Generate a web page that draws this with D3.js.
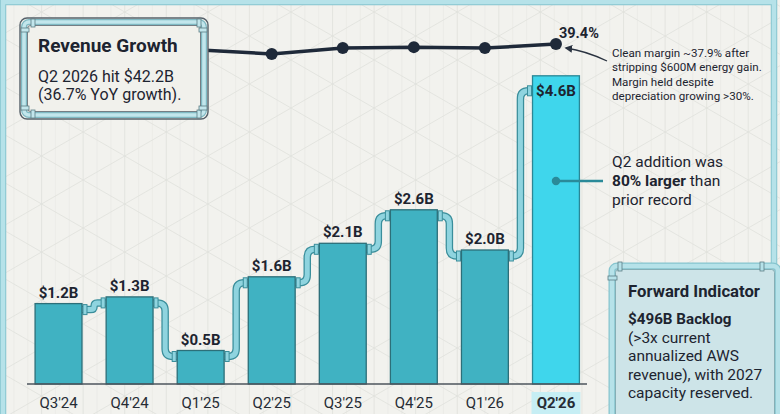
<!DOCTYPE html>
<html><head><meta charset="utf-8">
<script src="https://cdn.jsdelivr.net/npm/d3@7"></script>
<style>
html,body{margin:0;padding:0;background:#f2f2ee;}
svg{display:block;font-family:Roboto,"Noto Sans",sans-serif;}
</style></head>
<body>
<svg id="c" width="780" height="414"></svg>
<script>
// ---- data ----
const quarters = ["Q3'24","Q4'24","Q1'25","Q2'25","Q3'25","Q4'25","Q1'26","Q2'26"];
const addition = [1.2, 1.3, 0.5, 1.6, 2.1, 2.6, 2.0, 4.6];           // $B
const additionLabels = ["$1.2B","$1.3B","$0.5B","$1.6B","$2.1B","$2.6B","$2.0B","$4.6B"];
const margin = [38.1, 36.9, 35.6, 33.0, 36.8, 37.4, 36.8, 39.4];      // %
const marginLastLabel = "39.4%";

const W = 780, H = 414;
const svg = d3.select("#c");
const TXT = "#1d2430";

// ---- background grid ----
const bg = svg.append("g");
bg.append("rect").attr("width", W).attr("height", H).attr("fill", "#f2f2ee");
const s = 48, dx = s * Math.cos(Math.PI / 6), t30 = Math.tan(Math.PI / 6);
for (let x = 0; x <= W; x += dx / 3) {
  bg.append("line").attr("x1", x).attr("x2", x).attr("y1", 0).attr("y2", H)
    .attr("stroke", Math.abs((x / dx) - Math.round(x / dx)) < 0.01 ? "#e0e1dc" : "#eaeae6").attr("stroke-width", 0.8);
}
for (let c = -W; c <= H + W; c += s) {
  bg.append("line").attr("x1", 0).attr("y1", c).attr("x2", W).attr("y2", c + W * t30)
    .attr("stroke", "#e0e1dc").attr("stroke-width", 0.8);
  bg.append("line").attr("x1", 0).attr("y1", c).attr("x2", W).attr("y2", c - W * t30)
    .attr("stroke", "#e0e1dc").attr("stroke-width", 0.8);
}

// ---- scales ----
const x = d3.scaleBand().domain(quarters).range([23, 591.5]).paddingInner(0.34).paddingOuter(0.17);
const y = d3.scaleLinear().domain([0, 5]).range([384, 49]);
const ym = d3.scaleLinear().domain([30, 40]).range([58.7, 43.06]);

const data = quarters.map((q, i) => ({ q, v: addition[i], lab: additionLabels[i], m: margin[i], last: i === quarters.length - 1 }));

// ---- pipes between bars ----
function pipe(g, d) {
  g.append("path").attr("d", d).attr("fill", "none").attr("stroke", "#3a8e9b").attr("stroke-width", 7.5).attr("stroke-linecap", "butt");
  g.append("path").attr("d", d).attr("fill", "none").attr("stroke", "#8fd4df").attr("stroke-width", 5).attr("stroke-linecap", "butt");
}
const pipes = svg.append("g");
for (let i = 0; i < data.length - 1; i++) {
  const a = data[i], b = data[i + 1];
  const x1 = x(a.q) + x.bandwidth();
  const x2 = x(b.q);
  const xm = (x1 + x2) / 2;
  const y1 = y(a.v) + 6;
  const y2 = y(b.v) + (b.last ? 15 : 6);
  const dir = y2 > y1 ? 1 : -1;
  const r = Math.min(8, Math.abs(y2 - y1) / 2);
  const d = `M${x1},${y1} H${xm - r} Q${xm},${y1} ${xm},${y1 + dir * r} V${y2 - dir * r} Q${xm},${y2} ${xm + r},${y2} H${x2}`;
  pipe(pipes, d);
  [[x1 + 1, y1], [x2 - 5, y2]].forEach(p => {
    pipes.append("rect").attr("x", p[0]).attr("y", p[1] - 5).attr("width", 4).attr("height", 10)
      .attr("fill", "#8fd4df").attr("stroke", "#3a8e9b").attr("stroke-width", 1);
  });
}

// ---- bars ----
const bars = svg.append("g");
bars.selectAll("rect").data(data).join("rect")
  .attr("x", d => x(d.q)).attr("y", d => y(d.v))
  .attr("width", x.bandwidth()).attr("height", d => y(0) - y(d.v))
  .attr("fill", d => d.last ? "#3fd6ec" : "#40b2c2")
  .attr("stroke", d => d.last ? "#2a8796" : "#2c6f79").attr("stroke-width", 1.3);

bars.selectAll("text").data(data).join("text")
  .attr("x", d => x(d.q) + x.bandwidth() / 2)
  .attr("y", d => d.last ? y(d.v) + 20 : y(d.v) - 6)
  .attr("text-anchor", "middle").attr("font-weight", 700).attr("font-size", 15)
  .attr("fill", TXT).text(d => d.lab);

// ---- x axis ----
const ax = svg.append("g");
ax.append("line").attr("x1", 27).attr("x2", 587).attr("y1", y(0)).attr("y2", y(0))
  .attr("stroke", "#4d545c").attr("stroke-width", 1.6);
const lastQ = quarters[quarters.length - 1];
ax.append("rect").attr("x", x(lastQ) - 1).attr("y", 392).attr("width", x.bandwidth() + 2).attr("height", 24).attr("fill", "#c6eef4");
ax.selectAll("text").data(data).join("text")
  .attr("x", d => x(d.q) + x.bandwidth() / 2).attr("y", 408)
  .attr("text-anchor", "middle").attr("font-size", 15)
  .attr("font-weight", d => d.last ? 700 : 400)
  .attr("fill", "#262c35").text(d => d.q);

// ---- margin line ----
const mg = svg.append("g");
const line = d3.line().x(d => x(d.q) + x.bandwidth() / 2).y(d => ym(d.m));
mg.append("path").datum(data).attr("d", line).attr("fill", "none").attr("stroke", "#1e2939").attr("stroke-width", 3.5);
mg.selectAll("circle").data(data).join("circle")
  .attr("cx", d => x(d.q) + x.bandwidth() / 2).attr("cy", d => ym(d.m)).attr("r", 6).attr("fill", "#1e2939");
const lastD = data[data.length - 1];
mg.append("text").attr("x", x(lastD.q) + x.bandwidth() / 2 + 3).attr("y", ym(lastD.m) - 6)
  .attr("font-size", 14.5).attr("font-weight", 700).attr("fill", TXT).text(marginLastLabel);

// arrow annotation
svg.append("defs").append("marker").attr("id", "ah").attr("viewBox", "0 0 10 10").attr("refX", 8).attr("refY", 5)
  .attr("markerWidth", 6).attr("markerHeight", 6).attr("orient", "auto")
  .append("path").attr("d", "M0,0 L10,5 L0,10 z").attr("fill", "#2a3340");
const lx = x(lastD.q) + x.bandwidth() / 2, lyv = ym(lastD.m);
svg.append("path").attr("d", `M607,61 Q586,51 ${lx + 10},${lyv + 4}`).attr("fill", "none")
  .attr("stroke", "#2a3340").attr("stroke-width", 1.3).attr("marker-end", "url(#ah)");
const noteTop = ["Clean margin ~37.9% after", "stripping $600M energy gain.", "Margin held despite", "depreciation growing >30%."];
svg.append("g").selectAll("text").data(noteTop).join("text")
  .attr("x", 612).attr("y", (d, i) => 57 + i * 14.4).attr("font-size", 11.6).attr("fill", TXT).text(d => d);

// middle annotation
const dotY = 181;
svg.append("line").attr("x1", lx).attr("x2", 603).attr("y1", dotY).attr("y2", dotY).attr("stroke", "#2a8a99").attr("stroke-width", 2.5);
svg.append("circle").attr("cx", lx).attr("cy", dotY).attr("r", 4.2).attr("fill", "#2a8a99");
const mid = svg.append("g").attr("font-size", 15.5).attr("fill", TXT);
mid.append("text").attr("x", 612).attr("y", 167).text("Q2 addition was");
const t2 = mid.append("text").attr("x", 612).attr("y", 186);
t2.append("tspan").attr("font-weight", 700).text("80% larger");
t2.append("tspan").text(" than");
mid.append("text").attr("x", 612).attr("y", 204.5).text("prior record");

// ---- frame pipes ----
function framePipe(d, w) {
  svg.append("path").attr("d", d).attr("fill", "none").attr("stroke", "#86c4ce").attr("stroke-width", w + 2);
  svg.append("path").attr("d", d).attr("fill", "none").attr("stroke", "#b6e2e9").attr("stroke-width", w);
}
framePipe("M3,414 V2 H774 V414", 4.5);

// ---- Revenue Growth box ----
const b1 = svg.append("g");
b1.append("rect").attr("x", 20).attr("y", 18).attr("width", 188).attr("height", 101).attr("rx", 7)
  .attr("fill", "#f1f1ec").attr("stroke", "#56616a").attr("stroke-width", 1.4);
b1.append("rect").attr("x", 24).attr("y", 22).attr("width", 180).attr("height", 93).attr("rx", 5)
  .attr("fill", "none").attr("stroke", "#7fb9c3").attr("stroke-width", 6);
b1.append("rect").attr("x", 24).attr("y", 22).attr("width", 180).attr("height", 93).attr("rx", 5)
  .attr("fill", "none").attr("stroke", "#c2e6ec").attr("stroke-width", 3.6);
b1.append("rect").attr("x", 27.5).attr("y", 25.5).attr("width", 173).attr("height", 86).attr("rx", 3)
  .attr("fill", "#f1f1ec").attr("stroke", "#56616a").attr("stroke-width", 0.8);
[[31, 19, 4, 8], [197, 19, 4, 8], [31, 110, 4, 8], [197, 110, 4, 8], [21, 28, 8, 4], [21, 106, 8, 4], [199, 28, 8, 4], [199, 106, 8, 4]].forEach(r => {
  b1.append("rect").attr("x", r[0]).attr("y", r[1]).attr("width", r[2]).attr("height", r[3])
    .attr("fill", "#c2e6ec").attr("stroke", "#5d7d84").attr("stroke-width", 0.8);
});
b1.append("text").attr("x", 38).attr("y", 52).attr("font-size", 19).attr("font-weight", 700).attr("fill", TXT).text("Revenue Growth");
b1.append("text").attr("x", 38).attr("y", 82).attr("font-size", 16).attr("fill", TXT).text("Q2 2026 hit $42.2B");
b1.append("text").attr("x", 38).attr("y", 99.5).attr("font-size", 16).attr("fill", TXT).text("(36.7% YoY growth).");

// ---- Forward Indicator box ----
const b2 = svg.append("g");
b2.append("rect").attr("x", 612).attr("y", 266).attr("width", 166).attr("height", 160).attr("rx", 5)
  .attr("fill", "#cde4e8").attr("stroke", "#86c4ce").attr("stroke-width", 7);
b2.append("rect").attr("x", 612).attr("y", 266).attr("width", 166).attr("height", 160).attr("rx", 5)
  .attr("fill", "none").attr("stroke", "#b6e2e9").attr("stroke-width", 4.5);
b2.append("rect").attr("x", 615.5).attr("y", 269.5).attr("width", 159).attr("height", 150).attr("rx", 3)
  .attr("fill", "#cde4e8").attr("stroke", "#6f9aa2").attr("stroke-width", 0.7);
[[618, 262, 4, 9], [760, 262, 4, 9], [608, 276, 9, 4]].forEach(r => {
  b2.append("rect").attr("x", r[0]).attr("y", r[1]).attr("width", r[2]).attr("height", r[3])
    .attr("fill", "#b6e2e9").attr("stroke", "#5d7d84").attr("stroke-width", 0.8);
});
b2.append("text").attr("x", 628).attr("y", 297).attr("font-size", 16.7).attr("font-weight", 700).attr("fill", TXT).text("Forward Indicator");
b2.append("text").attr("x", 628).attr("y", 324).attr("font-size", 15.2).attr("font-weight", 700).attr("fill", TXT).text("$496B Backlog");
["(>3x current", "annualized AWS", "revenue), with 2027", "capacity reserved."].forEach((t, i) => {
  b2.append("text").attr("x", 628).attr("y", 342.5 + i * 18.5).attr("font-size", 15.5).attr("fill", TXT).text(t);
});
</script>
</body></html>
